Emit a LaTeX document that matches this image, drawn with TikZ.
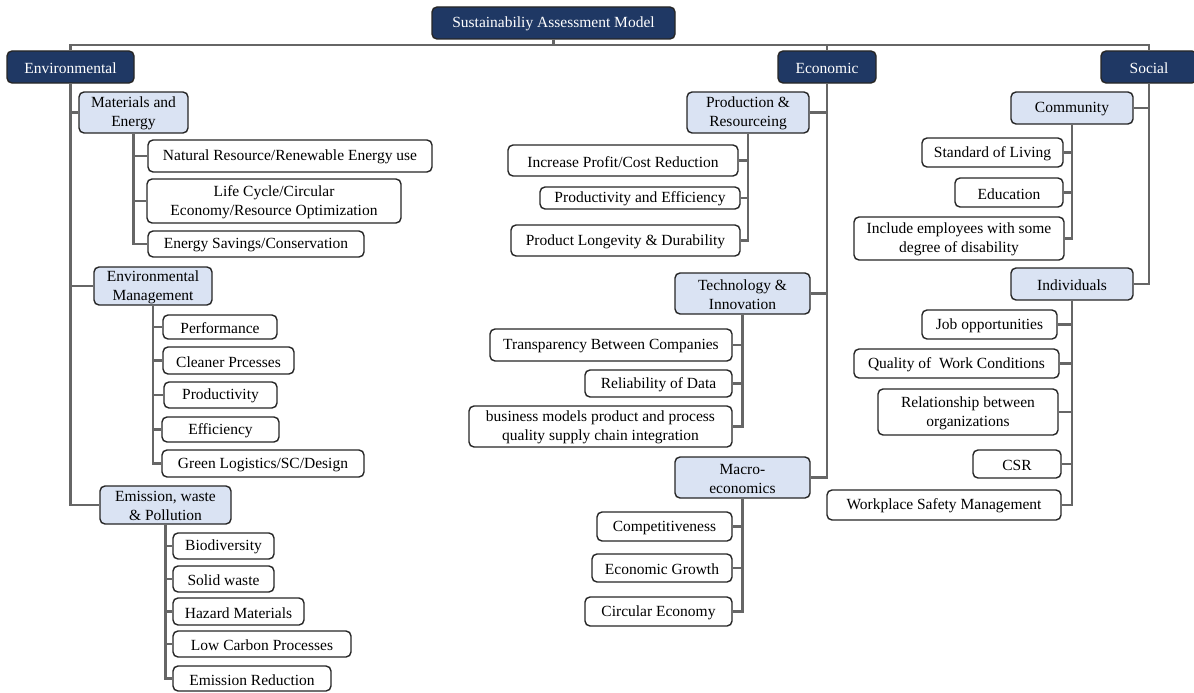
\documentclass[tikz,border=0pt]{standalone}
\usepackage{fontspec}
\setmainfont{Liberation Serif}
\definecolor{navy}{HTML}{1F3864}
\definecolor{paleblue}{HTML}{DAE3F3}
\definecolor{linkgray}{HTML}{666666}
\definecolor{edgedark}{HTML}{262626}
% box from its corners: style, name, x1, y1, x2, y2, text
\newcommand\bx[7]{%
  \node[#1, minimum width={(#5-#3)*1pt}, minimum height={(#6-#4)*1pt}]
    (#2) at ({(#3+#5)/2},{(#4+#6)/2}) {};
  \node[#1text] at ([yshift=-1.2pt]#2.center) {#7};}
\begin{document}
\begin{tikzpicture}[x=1pt, y=-1pt,
  every node/.style={font=\fontsize{15.5}{19}\selectfont, align=center, inner sep=0pt},
  basebox/.style={draw=edgedark, line width=1.4pt, rounded corners=5pt},
  dimbox/.style={basebox, fill=navy},
  catbox/.style={basebox, fill=paleblue},
  leafbox/.style={basebox, fill=white},
  dimboxtext/.style={text=white},
  catboxtext/.style={text=black},
  leafboxtext/.style={text=black},
  link/.style={draw=linkgray, line width=2.2pt}]
\useasboundingbox (0,0) rectangle (1194,693);

% root and dimensions
\bx{dimbox}{root}{432}{7}{675}{39}{Sustainabiliy Assessment Model}
\bx{dimbox}{env}{7}{51}{134}{83}{Environmental}
\bx{dimbox}{eco}{778}{51}{876}{83}{Economic}
\bx{dimbox}{soc}{1101}{51}{1197}{83}{Social}

% environmental branch
\bx{catbox}{mat}{79}{92}{188}{133}{Materials and\\Energy}
\bx{leafbox}{nat}{148}{140}{432}{172}{Natural Resource/Renewable Energy use}
\bx{leafbox}{life}{147}{179}{401}{223}{Life Cycle/Circular\\Economy/Resource Optimization}
\bx{leafbox}{ensav}{148}{231}{364}{257}{Energy Savings/Conservation}

\bx{catbox}{em}{94}{267}{212}{305}{Environmental\\Management}
\bx{leafbox}{perf}{163}{315}{277}{339}{Performance}
\bx{leafbox}{clean}{163}{347}{294}{374}{Cleaner Prcesses}
\bx{leafbox}{prodv}{164}{382}{277}{408}{Productivity}
\bx{leafbox}{effi}{162}{417}{279}{442}{Efficiency}
\bx{leafbox}{green}{162}{450}{364}{477}{Green Logistics/SC/Design}

\bx{catbox}{ewp}{100}{486}{231}{524}{Emission, waste\\\& Pollution}
\bx{leafbox}{bio}{173}{533}{274}{559}{Biodiversity}
\bx{leafbox}{solid}{173}{566}{274}{592}{Solid waste}
\bx{leafbox}{haz}{173}{598}{304}{625}{Hazard Materials}
\bx{leafbox}{lowc}{173}{631}{351}{657}{Low Carbon Processes}
\bx{leafbox}{emred}{173}{666}{331}{691}{Emission Reduction}

% economic branch
\bx{catbox}{prod}{687}{92}{809}{133}{Production \&\\Resourceing}
\bx{leafbox}{inc}{508}{145}{738}{176}{Increase Profit/Cost Reduction}
\bx{leafbox}{pae}{540}{187}{740}{209}{Productivity and Efficiency}
\bx{leafbox}{plong}{511}{225}{740}{256}{Product Longevity \& Durability}

\bx{catbox}{tech}{675}{273}{810}{314}{Technology \&\\Innovation}
\bx{leafbox}{transp}{490}{329}{732}{361}{Transparency Between Companies}
\bx{leafbox}{reli}{585}{370}{732}{397}{Reliability of Data}
\bx{leafbox}{bmod}{469}{406}{732}{447}{business models product and process\\quality supply chain integration}

\bx{catbox}{macro}{675}{457}{810}{498}{Macro-\\economics}
\bx{leafbox}{comp}{597}{512}{732}{541}{Competitiveness}
\bx{leafbox}{egrow}{592}{554}{732}{582}{Economic Growth}
\bx{leafbox}{circ}{585}{597}{732}{626}{Circular Economy}

% social branch
\bx{catbox}{comm}{1011}{92}{1133}{124}{Community}
\bx{leafbox}{sol}{922}{138}{1063}{167}{Standard of Living}
\bx{leafbox}{edu}{955}{178}{1063}{207}{Education}
\bx{leafbox}{incl}{854}{217}{1064}{260}{Include employees with some\\degree of disability}

\bx{catbox}{indiv}{1011}{268}{1133}{300}{Individuals}
\bx{leafbox}{job}{922}{310}{1057}{339}{Job opportunities}
\bx{leafbox}{qual}{854}{349}{1059}{378}{Quality of~ Work Conditions}
\bx{leafbox}{rel}{878}{389}{1058}{435}{Relationship between\\organizations}
\bx{leafbox}{csr}{973}{450}{1061}{478}{CSR}
\bx{leafbox}{wsafe}{827}{490}{1061}{520}{Workplace Safety Management}

% connectors
\foreach \d in {env,eco,soc}
  \draw[link] (root.south) -- ++(0,5) -| (\d.north);
\foreach \c in {mat,em,ewp} \draw[link] (env.south) |- (\c.west);
\foreach \c in {prod,tech,macro} \draw[link] (eco.south) |- (\c.east);
\foreach \c in {comm,indiv} \draw[link] (soc.south) |- (\c.east);
\foreach \l in {nat,life,ensav} \draw[link] (mat.south) |- (\l.west);
\foreach \l in {perf,clean,prodv,effi,green} \draw[link] (em.south) |- (\l.west);
\foreach \l in {bio,solid,haz,lowc,emred} \draw[link] (ewp.south) |- (\l.west);
\foreach \l in {inc,pae,plong} \draw[link] (prod.south) |- (\l.east);
\foreach \l in {transp,reli,bmod} \draw[link] (tech.south) |- (\l.east);
\foreach \l in {comp,egrow,circ} \draw[link] (macro.south) |- (\l.east);
\foreach \l in {sol,edu,incl} \draw[link] (comm.south) |- (\l.east);
\foreach \l in {job,qual,rel,csr,wsafe} \draw[link] (indiv.south) |- (\l.east);
\end{tikzpicture}
\end{document}
